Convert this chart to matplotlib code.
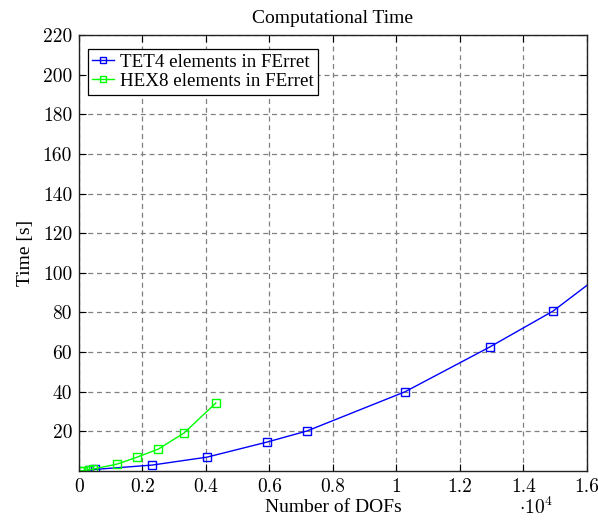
import matplotlib
matplotlib.use("Agg")
import matplotlib.pyplot as plt
from matplotlib.ticker import FuncFormatter
import numpy as np

# Degrees of freedom and wall-clock solve times
tet4_dofs = [300, 500, 2300, 4030, 5920, 7180, 10270, 12940, 14930, 18000]
tet4_time = [0.4, 0.8, 3.0, 7.0, 14.6, 20.2, 40.0, 62.6, 80.7, 118.0]

hex8_dofs = [30, 120, 330, 450, 1200, 1830, 2490, 3310, 4310]
hex8_time = [0.1, 0.2, 0.6, 1.0, 3.5, 7.0, 11.0, 19.2, 34.3]

x_ticks = [0, 0.2, 0.4, 0.6, 0.8, 1.0, 1.2, 1.4, 1.6]
y_ticks = [20, 40, 60, 80, 100, 120, 140, 160, 180, 200, 220]

plt.rcParams["mathtext.fontset"] = "cm"
plt.rcParams["axes.formatter.use_mathtext"] = True
serif = ["Liberation Serif", "DejaVu Serif"]

fig = plt.figure(figsize=(5.98, 5.24), dpi=100)
ax = fig.add_axes([0.1321, 0.1011, 0.8495, 0.8321])

scale = 1e4
ax.plot(np.array(tet4_dofs) / scale, tet4_time, color=(0, 0, 1), lw=1.0,
        marker="s", ms=6, mfc="none", mec=(0, 0, 1), mew=1.0,
        label="TET4 elements in FErret")
ax.plot(np.array(hex8_dofs) / scale, hex8_time, color=(0, 1, 0), lw=1.0,
        marker="s", ms=6, mfc="none", mec=(0, 1, 0), mew=1.0,
        label="HEX8 elements in FErret")

ax.set_xlim(0, 1.6)
ax.set_ylim(0, 220)
ax.set_xticks(x_ticks)
ax.set_yticks(y_ticks)
ax.xaxis.set_major_formatter(FuncFormatter(lambda v, p: f"{v:g}"))
ax.yaxis.set_major_formatter(FuncFormatter(lambda v, p: f"{v:g}"))
ax.tick_params(direction="in", top=True, right=True, length=5, width=0.8,
               labelsize=14, pad=5, labelfontfamily="cmr10")

ax.grid(True, color="#808080", ls=(0, (4, 3)), lw=0.9)
ax.set_axisbelow(True)
for s in ax.spines.values():
    s.set_linewidth(1.0)
    s.set_color("#222222")

ax.set_title("Computational Time", fontfamily=serif, fontsize=14, pad=9)
ax.set_xlabel("Number of DOFs", fontfamily=serif, fontsize=14, labelpad=2)
ax.set_ylabel("Time [s]", fontfamily=serif, fontsize=14, labelpad=6)
fig.text(0.868, 0.012, r"$\cdot 10^4$", fontsize=14, ha="left", va="bottom")

leg = ax.legend(loc="upper left", bbox_to_anchor=(0.017, 0.969),
                prop={"family": serif, "size": 13.7}, fancybox=False,
                framealpha=1, edgecolor="black", handlelength=1.15,
                handletextpad=0.3, borderpad=0.25, labelspacing=0.1,
                borderaxespad=0.0, markerscale=0.7)
leg.get_frame().set_linewidth(0.9)

fig.savefig("out.png", dpi=100)
